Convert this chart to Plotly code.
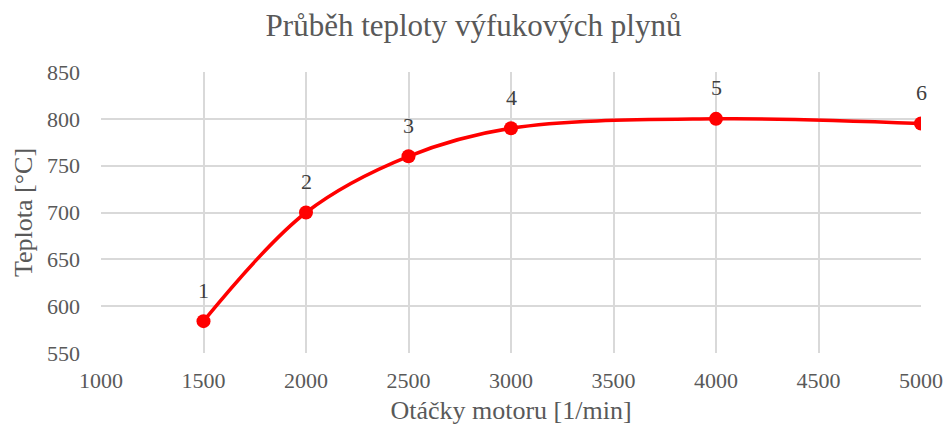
import plotly.graph_objects as go

# engine speed [1/min] and exhaust gas temperature [°C]
otacky = [1500, 2000, 2500, 3000, 4000, 5000]
teplota = [584, 700, 760, 790, 800, 795]
popisky = ["1", "2", "3", "4", "5", "6"]

font_family = "Liberation Serif, Times New Roman, serif"
gray = "#595959"
grid = "#d9d9d9"

fig = go.Figure()

fig.add_trace(go.Scatter(
    x=otacky,
    y=teplota,
    mode="lines+markers",
    line=dict(color="#ff0000", width=3.5, shape="spline", smoothing=1),
    marker=dict(color="#ff0000", size=14),
    showlegend=False,
))

# point numbers above each marker
for x, y, t in zip(otacky, teplota, popisky):
    fig.add_annotation(
        x=x, y=y, text=t, showarrow=False, yshift=31,
        font=dict(family=font_family, size=22, color="#404040"),
    )

fig.update_layout(
    width=947,
    height=434,
    paper_bgcolor="white",
    plot_bgcolor="white",
    margin=dict(l=101, r=26, t=72, b=81),
    title=dict(
        text="Průběh teploty výfukových plynů",
        x=0.5, xanchor="center", y=0.943, yanchor="middle",
        font=dict(family=font_family, size=31, color=gray),
    ),
    font=dict(family=font_family, color=gray),
    xaxis=dict(
        range=[1000, 5000],
        dtick=500,
        showgrid=True,
        gridcolor=grid,
        gridwidth=1.5,
        zeroline=False,
        showline=False,
        automargin=False,
        tickfont=dict(family=font_family, size=22, color=gray),
        ticks="",
        ticklabelstandoff=12,
        title=dict(text="Otáčky motoru [1/min]",
                   font=dict(family=font_family, size=26, color=gray), standoff=8),
    ),
    yaxis=dict(
        range=[550, 850],
        dtick=50,
        showgrid=True,
        gridcolor=grid,
        gridwidth=1.5,
        zeroline=False,
        showline=False,
        automargin=False,
        tickfont=dict(family=font_family, size=22, color=gray),
        ticks="",
        ticklabelstandoff=20,
        title=dict(text="Teplota [°C]",
                   font=dict(family=font_family, size=26, color=gray), standoff=6),
    ),
)

# drop the default page margin so the figure fills the window exactly
fig.write_html(
    "out.html",
    config={"displayModeBar": False},
    post_script="document.body.style.margin='0px';",
)
